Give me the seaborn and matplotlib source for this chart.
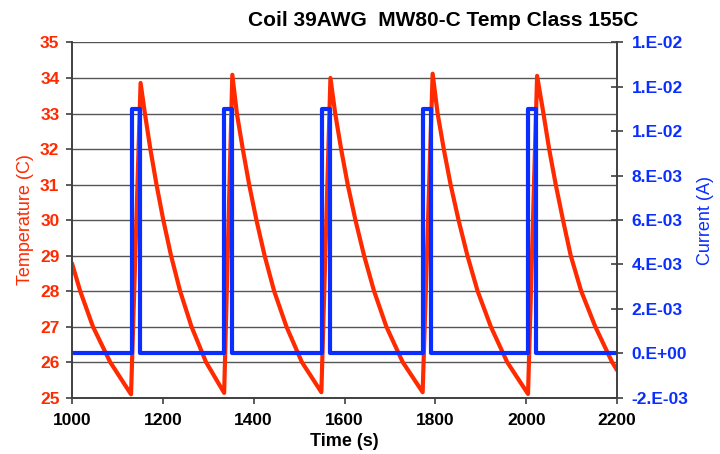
import matplotlib
matplotlib.use("Agg")
import matplotlib.pyplot as plt
import seaborn as sns
import pandas as pd

# ---- data ----
title = "Coil 39AWG  MW80-C Temp Class 155C"
x_label = "Time (s)"
left_label = "Temperature (C)"
right_label = "Current (A)"

temp_time = [1000, 1018, 1046, 1084, 1130,
             1151, 1160.5, 1172.5, 1186, 1201, 1218, 1238, 1263, 1295, 1335,
             1353, 1363, 1376, 1390, 1406, 1424, 1445, 1472, 1506, 1549,
             1569, 1579.5, 1592.5, 1607, 1624, 1643, 1665, 1692, 1728, 1772,
             1794, 1805, 1818.5, 1833.5, 1851, 1870.5, 1893, 1922, 1958, 2004,
             2024, 2038, 2050.5, 2065, 2081, 2098, 2121, 2152, 2189, 2200]
temp_vals = [28.78, 28.0, 27.0, 26.0, 25.09,
             33.86, 33.0, 32.0, 31.0, 30.0, 29.0, 28.0, 27.0, 26.0, 25.13,
             34.09, 33.0, 32.0, 31.0, 30.0, 29.0, 28.0, 27.0, 26.0, 25.15,
             34.00, 33.0, 32.0, 31.0, 30.0, 29.0, 28.0, 27.0, 26.0, 25.15,
             34.12, 33.0, 32.0, 31.0, 30.0, 29.0, 28.0, 27.0, 26.0, 25.10,
             34.06, 33.0, 32.0, 31.0, 30.0, 29.0, 28.0, 27.0, 26.0, 25.77]

cur_time = [1000, 1131, 1131, 1150, 1150, 1335, 1335, 1352, 1352,
            1550, 1550, 1568, 1568, 1772, 1772, 1791, 1791,
            2004, 2004, 2022, 2022, 2200]
cur_vals = [0, 0, 0.011, 0.011, 0, 0, 0.011, 0.011, 0,
            0, 0.011, 0.011, 0, 0, 0.011, 0.011, 0,
            0, 0.011, 0.011, 0, 0]

x_ticks = [1000, 1200, 1400, 1600, 1800, 2000, 2200]
left_ticks = [25, 26, 27, 28, 29, 30, 31, 32, 33, 34, 35]
right_ticks = [-0.002, 0.0, 0.002, 0.004, 0.006, 0.008, 0.010, 0.012, 0.014]
right_tick_labels = ["-2.E-03", "0.E+00", "2.E-03", "4.E-03", "6.E-03",
                     "8.E-03", "1.E-02", "1.E-02", "1.E-02"]

RED = "#FF2A00"
BLUE = "#0A2EFF"
SPINE = "#404040"

sns.set_theme(style="white")
plt.rcParams["font.family"] = ["Liberation Sans", "DejaVu Sans"]

fig = plt.figure(figsize=(7.2, 4.54), dpi=100)
ax = fig.add_axes([0.1, 0.1244, 0.757, 0.782])
ax2 = ax.twinx()

df_t = pd.DataFrame({"time": temp_time, "temp": temp_vals})
df_c = pd.DataFrame({"time": cur_time, "cur": cur_vals})

sns.lineplot(data=df_t, x="time", y="temp", ax=ax, color=RED, lw=3,
             sort=False, estimator=None)
sns.lineplot(data=df_c, x="time", y="cur", ax=ax2, color=BLUE, lw=3,
             sort=False, estimator=None)

ax.set_xlim(1000, 2200)
ax.set_ylim(25, 35)
ax2.set_ylim(-0.002, 0.014)

ax.set_xticks(x_ticks)
ax.set_yticks(left_ticks)
ax2.set_yticks(right_ticks)
ax2.set_yticklabels(right_tick_labels)

ax.grid(axis="y", color="#555555", lw=1.0)
ax.grid(axis="x", visible=False)
ax2.grid(False)

for a in (ax, ax2):
    for s in a.spines.values():
        s.set_color(SPINE)
        s.set_linewidth(1.2)
    a.spines["top"].set_visible(False)

ax.tick_params(axis="y", colors=SPINE, labelcolor=RED, labelsize=12.5,
               direction="out", length=4, width=1.2, left=True, pad=5)
ax.tick_params(axis="x", colors=SPINE, labelcolor="black", labelsize=12.5,
               direction="out", length=4, width=1.2, bottom=True, pad=7)
ax2.tick_params(axis="y", colors=SPINE, labelcolor=BLUE, labelsize=12.5,
                direction="inout", length=9, width=1.2, right=True, pad=6)

for lab in ax.get_yticklabels() + ax.get_xticklabels() + ax2.get_yticklabels():
    lab.set_fontweight("bold")

ax.set_xlabel(x_label, fontsize=13, fontweight="bold", color="black", labelpad=4)
ax.set_ylabel(left_label, fontsize=13, color=RED, labelpad=4)
ax2.set_ylabel(right_label, fontsize=13, color=BLUE, labelpad=6)

fig.text(0.616, 0.955, title, ha="center", va="center",
         fontsize=15, fontweight="bold", color="black")

fig.savefig("out.png", dpi=100)
